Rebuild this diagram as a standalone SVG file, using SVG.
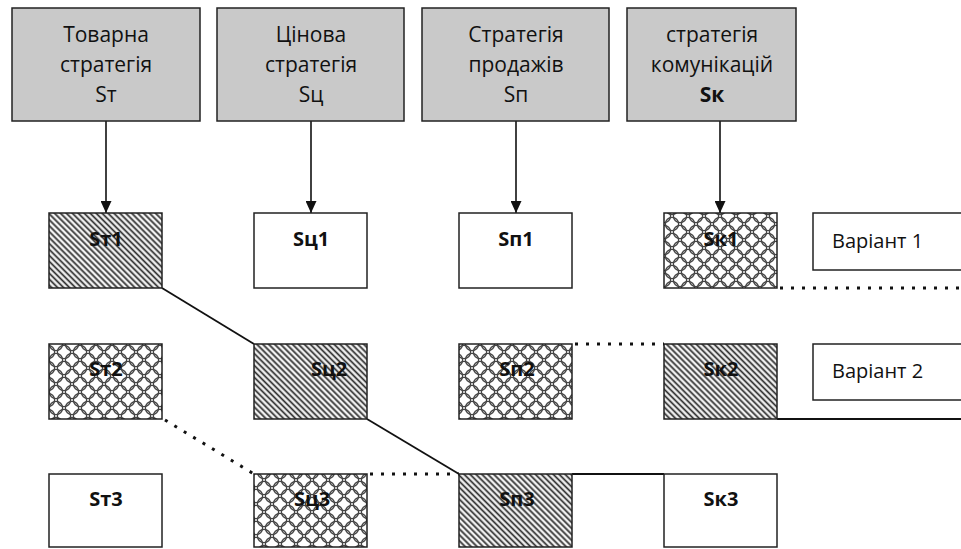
<svg xmlns="http://www.w3.org/2000/svg" width="961" height="549" viewBox="0 0 961 549">
<style>
.hdr{fill:#c9c9c9;stroke:#222;stroke-width:1.5}
.box{stroke:#222;stroke-width:1.5}
.plain{fill:#fff}
.hatch{fill:url(#hatch)}
.circ{fill:url(#circ)}
.t{font-family:"Open Sans","Noto Sans","Liberation Sans",sans-serif;font-size:21px;fill:#111;text-anchor:middle}
.lb{font-family:"Open Sans","Noto Sans","Liberation Sans",sans-serif;font-size:20px;font-weight:bold;fill:#111;text-anchor:middle}
.var{font-family:"Open Sans","Noto Sans","Liberation Sans",sans-serif;font-size:20px;fill:#111}
.arr{stroke:#111;stroke-width:1.6;fill:none;marker-end:url(#ah)}
.solid{stroke:#111;stroke-width:1.8;fill:none}
.dot{stroke:#111;stroke-width:3;fill:none;stroke-dasharray:3 8}
</style>
<defs>
<marker id="ah" viewBox="0 0 12 11" refX="12" refY="5.5" markerWidth="12" markerHeight="11" markerUnits="userSpaceOnUse" orient="auto">
<path d="M0,0 L12,5.5 L0,11 Z" fill="#111"/>
</marker>
<pattern id="hatch" width="4.2" height="4.2" patternUnits="userSpaceOnUse" patternTransform="rotate(-45)">
<rect width="4.2" height="4.2" fill="#f2f2f2"/>
<line x1="1.2" y1="0" x2="1.2" y2="4.2" stroke="#2e2e2e" stroke-width="1.7"/>
</pattern>
<pattern id="circ" width="16" height="16" patternUnits="userSpaceOnUse">
<rect width="16" height="16" fill="#fff"/>
<g fill="none" stroke="#444" stroke-width="1.3">
<circle cx="8" cy="8" r="6.6"/>
<circle cx="0" cy="0" r="6.6"/>
<circle cx="16" cy="0" r="6.6"/>
<circle cx="0" cy="16" r="6.6"/>
<circle cx="16" cy="16" r="6.6"/>
</g>
</pattern>
</defs>

<g id="connectors">
<line class="arr" x1="106" y1="121" x2="106" y2="213"/>
<line class="arr" x1="311" y1="121" x2="311" y2="213"/>
<line class="arr" x1="516" y1="121" x2="516" y2="213"/>
<line class="arr" x1="720" y1="121" x2="720" y2="213"/>
<line class="solid" x1="162" y1="288" x2="254" y2="344"/>
<line class="solid" x1="367" y1="419" x2="459" y2="474"/>
<line class="solid" x1="572" y1="474" x2="664" y2="474"/>
<line class="solid" x1="777" y1="419" x2="961" y2="419"/>
<line class="dot" x1="165" y1="420" x2="254" y2="474"/>
<line class="dot" x1="370" y1="474" x2="459" y2="474"/>
<line class="dot" x1="575" y1="344" x2="664" y2="344"/>
<line class="dot" x1="780" y1="288" x2="961" y2="288"/>
</g>

<g id="h-t"><rect class="hdr" x="12" y="8" width="188" height="113"/>
<text class="t" x="106" y="42">Товарна</text><text class="t" x="106" y="72">стратегія</text><text class="t" x="106" y="102">Sт</text></g>
<g id="h-c"><rect class="hdr" x="217" y="8" width="187" height="113"/>
<text class="t" x="311" y="42">Цінова</text><text class="t" x="311" y="72">стратегія</text><text class="t" x="311" y="102">Sц</text></g>
<g id="h-p"><rect class="hdr" x="422" y="8" width="187" height="113"/>
<text class="t" x="516" y="42">Стратегія</text><text class="t" x="516" y="72">продажів</text><text class="t" x="516" y="102">Sп</text></g>
<g id="h-k"><rect class="hdr" x="627" y="8" width="169" height="113"/>
<text class="t" x="712" y="42">стратегія</text><text class="t" x="712" y="72">комунікацій</text><text class="t" x="712" y="102" font-weight="bold">Sк</text></g>

<g id="st1"><rect class="box hatch" x="49" y="213" width="113" height="75"/><text class="lb" x="106" y="246">Sт1</text></g>
<g id="sc1"><rect class="box plain" x="254" y="213" width="113" height="75"/><text class="lb" x="311" y="246">Sц1</text></g>
<g id="sp1"><rect class="box plain" x="459" y="213" width="113" height="75"/><text class="lb" x="516" y="246">Sп1</text></g>
<g id="sk1"><rect class="box circ" x="664" y="213" width="113" height="75"/><text class="lb" x="721" y="246">Sк1</text></g>
<g id="v1"><rect class="box plain" x="813" y="213" width="160" height="57"/><text class="var" x="832" y="248">Варіант 1</text></g>

<g id="st2"><rect class="box circ" x="49" y="344" width="113" height="75"/><text class="lb" x="106" y="376">Sт2</text></g>
<g id="sc2"><rect class="box hatch" x="254" y="344" width="113" height="75"/><text class="lb" x="329" y="376">Sц2</text></g>
<g id="sp2"><rect class="box circ" x="459" y="344" width="113" height="75"/><text class="lb" x="517" y="376">Sп2</text></g>
<g id="sk2"><rect class="box hatch" x="664" y="344" width="113" height="75"/><text class="lb" x="721" y="376">Sк2</text></g>
<g id="v2"><rect class="box plain" x="813" y="344" width="160" height="56"/><text class="var" x="832" y="378">Варіант 2</text></g>

<g id="st3"><rect class="box plain" x="49" y="474" width="113" height="73"/><text class="lb" x="106" y="506">Sт3</text></g>
<g id="sc3"><rect class="box circ" x="254" y="474" width="113" height="73"/><text class="lb" x="312" y="506">Sц3</text></g>
<g id="sp3"><rect class="box hatch" x="459" y="474" width="113" height="73"/><text class="lb" x="517" y="506">Sп3</text></g>
<g id="sk3"><rect class="box plain" x="664" y="474" width="113" height="73"/><text class="lb" x="721" y="506">Sк3</text></g>
</svg>
